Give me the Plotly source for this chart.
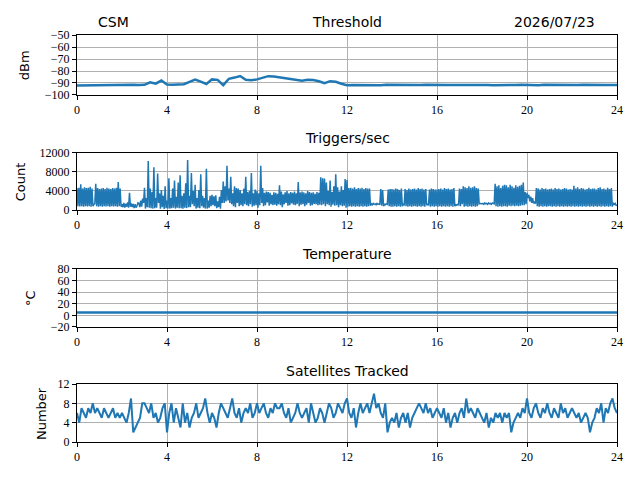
import plotly.graph_objs as go

# %% veriler (okunan degerler)

saat_ticks = [0, 4, 8, 12, 16, 20, 24]

# esik degeri, saatte 4 olcum (0 .. 24)
esik = [-92.0, -91.9, -92.1, -91.9, -92.0, -91.8, -91.9, -91.8,
        -91.5, -91.6, -91.4, -91.6,
        -91.5, -89.5, -90.6, -88.0,
        -91.2, -91.5, -91.3, -91.0,
        -89.0, -87.2, -88.8, -90.8,
        -87.0, -87.4, -91.8, -86.5,
        -85.5, -84.2, -87.3, -87.8,
        -87.0, -85.8, -84.3, -84.6,
        -85.4, -86.0, -86.6, -87.3,
        -88.2, -87.4, -87.6, -88.6,
        -90.2, -88.5, -89.0, -90.6,
        -91.8, -91.6, -91.7, -91.5, -91.7, -91.6, -91.8, -91.5,
        -91.6, -91.7, -91.5, -91.6, -91.8, -91.6, -91.5, -91.7,
        -91.6, -91.5, -91.7, -91.6, -91.8, -91.5, -91.6, -91.7,
        -91.5, -91.6, -91.8, -91.6, -91.5, -91.7, -91.6, -91.5,
        -91.7, -91.6, -91.8, -91.5, -91.6, -91.7, -91.5, -91.6,
        -91.8, -91.6, -91.5, -91.7, -91.6, -91.5, -91.7, -91.6,
        -91.6]

# tetikleme sayisi, saatte 24 olcum (her satir bir saat)
tetik = [
    4600, 800, 4700, 750, 5400, 800, 4500, 700, 4800, 800, 4600, 750, 4700, 800, 4900, 700, 4500, 800, 1200, 1300, 5500, 800, 4600, 700,
    4400, 800, 4500, 700, 4600, 800, 4400, 750, 4700, 800, 4500, 700, 4400, 800, 4600, 750, 4500, 800, 4700, 700, 5900, 800, 4500, 700,
    1200, 600, 1500, 500, 1300, 700, 1600, 500, 3600, 700, 1400, 600, 1300, 400, 1200, 500, 900, 1500, 1400, 600, 2000, 700, 2400, 1500,
    4700, 300, 2500, 600, 10300, 500, 4500, 400, 3800, 300, 9000, 400, 2500, 500, 7700, 1500, 3500, 300, 4200, 600, 3000, 200, 5000, 400,
    2000, 300, 6700, 300, 2500, 400, 4500, 500, 6200, 300, 2800, 500, 5800, 400, 7300, 400, 3000, 300, 3500, 500, 5600, 400, 10500, 600,
    3000, 600, 7800, 1200, 4000, 800, 5300, 300, 2500, 500, 4200, 400, 7500, 800, 3000, 500, 2500, 300, 8700, 300, 2000, 500, 3000, 800,
    3200, 1000, 2900, 800, 3100, 400, 1800, 600, 2800, 300, 4200, 1500, 6000, 1500, 5000, 1800, 9300, 2000, 4500, 1500, 7000, 1200, 3500, 800,
    5000, 600, 4600, 1500, 4500, 800, 4200, 1000, 3500, 800, 4500, 1200, 7000, 1000, 3800, 800, 4000, 1200, 7800, 700, 3500, 900, 4300, 1000,
    4000, 500, 3500, 1000, 9300, 1500, 4600, 800, 3600, 1000, 3900, 1600, 3800, 900, 3600, 1200, 3200, 1000, 3700, 1100, 3600, 900, 3400, 1200,
    5200, 1000, 3900, 600, 3300, 1200, 3700, 1500, 4000, 900, 3500, 1000, 3800, 1400, 3600, 1100, 3900, 1000, 3500, 1300, 5900, 800, 3700, 1100,
    3900, 1200, 3700, 800, 3500, 1100, 4000, 1500, 3800, 900, 3600, 1000, 3700, 1300, 3400, 1200, 3800, 1000, 3600, 1100, 6900, 1000, 6700, 1200,
    6600, 800, 5800, 1200, 4000, 1000, 6200, 700, 3800, 1100, 5000, 900, 7500, 1000, 4800, 600, 3900, 1000, 5000, 800, 4200, 900, 6500, 500,
    6300, 700, 4600, 800, 4700, 700, 4500, 800, 4800, 700, 4400, 800, 4600, 700, 4500, 800, 4700, 700, 4400, 800, 4600, 700, 4500, 800,
    4500, 900, 1300, 1100, 1400, 1200, 1300, 1100, 1400, 1200, 1300, 1100, 4400, 900, 4200, 800, 1200, 1100, 1300, 1200, 4300, 800, 4400, 700,
    4400, 700, 4300, 800, 4500, 700, 4400, 800, 4200, 700, 4500, 800, 1200, 1100, 4400, 800, 4200, 700, 4500, 800, 4300, 700, 4400, 800,
    4500, 800, 4300, 700, 4600, 800, 4400, 700, 4500, 800, 4300, 700, 4400, 1000, 1200, 1100, 4300, 700, 4500, 800, 4400, 700, 4300, 800,
    4300, 700, 4400, 800, 4500, 700, 4300, 800, 4600, 700, 4400, 800, 4500, 700, 4300, 800, 4400, 700, 4600, 800, 1100, 1000, 1200, 1100,
    4500, 800, 4400, 1200, 5000, 700, 4800, 800, 4600, 700, 5000, 800, 4700, 700, 4800, 800, 5000, 700, 4600, 800, 4500, 1300, 1400, 1300,
    1300, 1400, 1200, 1500, 1300, 1400, 1200, 1500, 1300, 1400, 1200, 1500, 1400, 1300, 5500, 800, 5000, 700, 5200, 800, 4600, 700, 5100, 800,
    5300, 800, 5200, 700, 4800, 900, 5300, 800, 5000, 900, 4700, 800, 5200, 900, 4900, 800, 5100, 900, 5300, 1000, 5800, 1000, 3800, 1200,
    3600, 2500, 3200, 1800, 2800, 1500, 2500, 1400, 1800, 1300, 4600, 800, 4500, 700, 4300, 800, 4600, 700, 4400, 800, 4500, 700, 4300, 800,
    4400, 800, 4500, 700, 4300, 800, 4600, 700, 4400, 800, 4500, 700, 4300, 800, 4400, 700, 4600, 800, 4500, 700, 4300, 800, 4400, 700,
    4300, 800, 5100, 700, 4500, 800, 4800, 700, 4400, 800, 4600, 700, 4500, 800, 4300, 700, 4400, 800, 4700, 700, 4400, 800, 4500, 700,
    4500, 800, 4300, 700, 4600, 800, 4800, 700, 4400, 800, 4500, 700, 4300, 800, 4700, 700, 4400, 800, 4600, 700, 1500, 1200, 1400, 1000,
    1000]

# sicaklik, saatte 1 olcum
sicaklik = [5.0, 4.9, 5.1, 5.0, 4.8, 5.0, 5.1, 4.9, 5.0, 5.2, 5.0, 4.9,
            5.0, 5.1, 4.9, 5.0, 4.8, 5.0, 5.1, 5.0, 4.9, 5.0, 5.1, 5.0, 4.9]

# takip edilen uydu sayisi, saatte 10 olcum
uydu = [6, 4, 7, 6, 5, 7, 6, 8, 6, 7,
        6, 5, 7, 6, 5, 6, 7, 5, 6, 5,
        6, 5, 4, 6, 9, 2, 3, 4, 5, 8,
        8, 7, 6, 8, 5, 6, 4, 5, 7, 8,
        2, 6, 8, 4, 7, 5, 3, 8, 4, 6,
        3, 5, 6, 8, 5, 6, 7, 9, 6, 4,
        6, 5, 3, 6, 8, 7, 6, 5, 7, 9,
        6, 5, 7, 4, 6, 7, 6, 8, 5, 6,
        8, 6, 7, 8, 6, 5, 7, 6, 8, 7,
        7, 8, 6, 5, 7, 4, 5, 6, 8, 6,
        5, 6, 7, 4, 8, 6, 4, 5, 7, 6,
        4, 6, 8, 7, 5, 6, 8, 7, 6, 8,
        9, 6, 5, 7, 3, 6, 8, 6, 7, 8,
        6, 8, 10, 7, 8, 6, 5, 8, 2, 4,
        5, 4, 6, 3, 5, 6, 4, 6, 3, 5,
        6, 7, 8, 7, 6, 8, 6, 7, 5, 6,
        7, 6, 5, 7, 4, 6, 3, 5, 6, 4,
        6, 7, 5, 9, 6, 7, 6, 5, 7, 6,
        5, 4, 6, 3, 5, 4, 6, 5, 6, 4,
        6, 5, 6, 2, 4, 5, 6, 5, 7, 6,
        9, 6, 5, 7, 8, 6, 5, 7, 6, 8,
        6, 5, 7, 6, 5, 8, 6, 7, 5, 6,
        7, 6, 5, 6, 4, 5, 6, 5, 2, 4,
        5, 7, 6, 8, 4, 7, 6, 8, 9, 7,
        6]


def saatler(seri):
    # olcumler gun boyunca esit aralikli
    n = len(seri) - 1
    return [24.0 * i / n for i in range(len(seri))]


renk = "#1f77b4"
yazi_tick = dict(family="Liberation Serif", size=12, color="black")
yazi_baslik = "DejaVu Sans"

# %% cizgiler

cizgi1 = go.Scatter(x=saatler(esik), y=esik, mode="lines",
                    line=dict(color=renk, width=2.5), xaxis="x", yaxis="y")
cizgi2 = go.Scatter(x=saatler(tetik), y=tetik, mode="lines",
                    line=dict(color=renk, width=1.5, simplify=False), xaxis="x2", yaxis="y2")
cizgi3 = go.Scatter(x=saatler(sicaklik), y=sicaklik, mode="lines",
                    line=dict(color=renk, width=2.5), xaxis="x3", yaxis="y3")
cizgi4 = go.Scatter(x=saatler(uydu), y=uydu, mode="lines",
                    line=dict(color=renk, width=2, simplify=False), xaxis="x4", yaxis="y4")

veri_ = [cizgi1, cizgi2, cizgi3, cizgi4]


def x_ekseni(anchor):
    return dict(range=[0, 24], tickvals=saat_ticks, anchor=anchor,
                showgrid=True, gridcolor="#b0b0b0", gridwidth=0.8,
                showline=True, linecolor="black", linewidth=1, mirror=True,
                ticks="outside", ticklen=4, tickwidth=0.8, tickcolor="black",
                tickfont=yazi_tick, zeroline=False, fixedrange=True)


def y_ekseni(anchor, domain, aralik, tikler):
    return dict(domain=domain, range=aralik, tickvals=tikler,
                ticktext=[str(t).replace("-", "\u2212") for t in tikler], anchor=anchor,
                showgrid=True, gridcolor="#b0b0b0", gridwidth=0.8,
                showline=True, linecolor="black", linewidth=1, mirror=True,
                ticks="outside", ticklen=4, tickwidth=0.8, tickcolor="black",
                tickfont=yazi_tick, zeroline=False, fixedrange=True)


def yazi(x, y, metin, boyut=14, aci=0, xanchor="center"):
    return dict(x=x, y=y, xref="paper", yref="paper", text=metin,
                showarrow=False, textangle=aci, xanchor=xanchor, yanchor="middle",
                font=dict(family=yazi_baslik, size=boyut, color="black"))


notlar = [
    yazi(0.5, 1.032, "Threshold"),
    yazi(0.0685, 1.032, "CSM"),
    yazi(0.885, 1.032, "2026/07/23"),
    yazi(0.5, 0.747, "Triggers/sec"),
    yazi(0.5, 0.462, "Temperature"),
    yazi(0.5, 0.1744, "Satellites Tracked"),
    yazi(-0.098, 0.926, "dBm", 13, -90),
    yazi(-0.104, 0.640, "Count", 13, -90),
    yazi(-0.085, 0.354, "°C", 13, -90),
    yazi(-0.0667, 0.071, "Number", 13, -90),
]

# sayfa govdesinin 8 piksellik kenar boslugu icin kaydirma
yerlesim = go.Layout(
    width=640, height=480, showlegend=False,
    paper_bgcolor="white", plot_bgcolor="white",
    margin=dict(l=69, r=31, t=27, b=46),
    xaxis=x_ekseni("y"),
    xaxis2=x_ekseni("y2"),
    xaxis3=x_ekseni("y3"),
    xaxis4=x_ekseni("y4"),
    yaxis=y_ekseni("x", [0.8526, 1.0], [-100, -50], [-100, -90, -80, -70, -60, -50]),
    yaxis2=y_ekseni("x2", [0.5700, 0.7101], [0, 12000], [0, 4000, 8000, 12000]),
    yaxis3=y_ekseni("x3", [0.2826, 0.4251], [-20, 80], [-20, 0, 20, 40, 60, 80]),
    yaxis4=y_ekseni("x4", [0.0, 0.1425], [0, 12], [0, 4, 8, 12]),
    annotations=notlar,
)

fig = go.Figure(data=veri_, layout=yerlesim)
fig.write_html("out.html")
